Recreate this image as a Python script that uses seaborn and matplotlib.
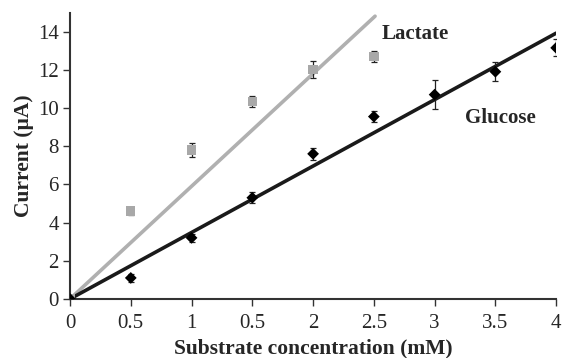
import numpy as np
import pandas as pd
import matplotlib
matplotlib.use("Agg")
import matplotlib.pyplot as plt
import seaborn as sns

# data
glucose_conc = [0, 0.5, 1.0, 1.5, 2.0, 2.5, 3.0, 3.5, 4.0]
glucose_current = [0, 1.1, 3.2, 5.3, 7.6, 9.55, 10.7, 11.9, 13.15]
glucose_err = [0, 0.2, 0.2, 0.3, 0.3, 0.3, 0.75, 0.5, 0.45]

lactate_conc = [0, 0.5, 1.0, 1.5, 2.0, 2.5]
lactate_current = [0, 4.6, 7.8, 10.35, 12.0, 12.7]
lactate_err = [0, 0.2, 0.35, 0.3, 0.45, 0.3]

# trend lines through origin (slope, x end)
glucose_slope, glucose_xmax = 3.48, 4.0
lactate_slope, lactate_xmax = 5.9, 2.51

x_ticks = [0, 0.5, 1, 1.5, 2, 2.5, 3, 3.5, 4]
x_ticklabels = ["0", "0.5", "1", "0.5", "2", "2.5", "3", "3.5", "4"]
y_ticks = [0, 2, 4, 6, 8, 10, 12, 14]

sns.set_style("white")
plt.rcParams["font.family"] = ["Liberation Serif", "DejaVu Serif"]

fig = plt.figure(figsize=(5.62, 3.58), dpi=100)
ax = fig.add_axes([0.1246, 0.165, 0.865, 0.8])

glu_color = "#1a1a1a"
lac_color = "#b0b0b0"

# fitted lines
glu_line = pd.DataFrame({"x": [0, glucose_xmax]})
glu_line["y"] = glu_line["x"] * glucose_slope
lac_line = pd.DataFrame({"x": [0, lactate_xmax]})
lac_line["y"] = lac_line["x"] * lactate_slope
sns.lineplot(data=lac_line, x="x", y="y", color=lac_color, lw=2.6, ax=ax)
sns.lineplot(data=glu_line, x="x", y="y", color=glu_color, lw=2.6, ax=ax)

# error bars
ax.errorbar(lactate_conc, lactate_current, yerr=lactate_err, fmt="none",
            ecolor="#222222", elinewidth=0.9, capsize=2.5, capthick=0.9, zorder=3)
ax.errorbar(glucose_conc, glucose_current, yerr=glucose_err, fmt="none",
            ecolor="#222222", elinewidth=0.9, capsize=2.5, capthick=0.9, zorder=3)

# points
lac_df = pd.DataFrame({"x": lactate_conc, "y": lactate_current})
glu_df = pd.DataFrame({"x": glucose_conc, "y": glucose_current})
sns.scatterplot(data=lac_df, x="x", y="y", marker="s", s=45, color="#a8a8a8",
                edgecolor="none", zorder=4, ax=ax)
sns.scatterplot(data=glu_df, x="x", y="y", marker="D", s=36, color="black",
                edgecolor="none", zorder=4, ax=ax)

ax.text(2.56, 13.85, "Lactate", fontsize=15, fontweight="bold", ha="left", va="center")
ax.text(3.25, 9.45, "Glucose", fontsize=15, fontweight="bold", ha="left", va="center")

ax.set_xlim(0, 4)
ax.set_ylim(0, 15)
ax.set_xticks(x_ticks)
ax.set_xticklabels(x_ticklabels)
ax.set_yticks(y_ticks)
ax.tick_params(axis="both", labelsize=15, direction="out", length=5, width=1,
               color="#333333", left=True, bottom=True, pad=3)
ax.tick_params(axis="x", pad=6)
ax.set_xlabel("Substrate concentration (mM)", fontsize=15.5, fontweight="bold", labelpad=4)
ax.set_ylabel("Current (\u00b5A)", fontsize=15.5, fontweight="bold", labelpad=3)

sns.despine(ax=ax)
for side in ["left", "bottom"]:
    ax.spines[side].set_color("#333333")
    ax.spines[side].set_linewidth(1.5)

fig.savefig("out.png", dpi=100)
